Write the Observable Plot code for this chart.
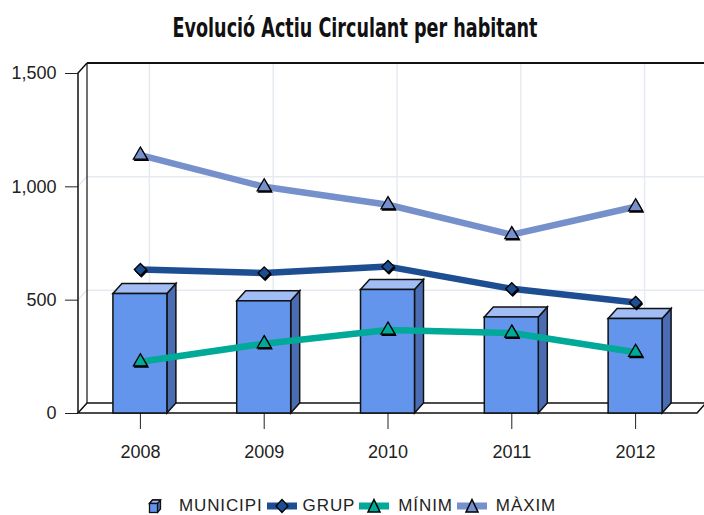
<!DOCTYPE html>
<html>
<head>
<meta charset="utf-8">
<script src="https://cdn.jsdelivr.net/npm/d3@7"></script>
<script src="https://cdn.jsdelivr.net/npm/@observablehq/plot@0.6"></script>
<style>
  html, body { margin: 0; padding: 0; background: #fff; }
  #wrap { width: 704px; height: 515px; position: relative; overflow: hidden; font-family: "Liberation Sans", Arial, sans-serif; }
  #title { display: block; }
  #legend { position: absolute; left: 0; top: 480px; width: 704px; display: flex; justify-content: center; align-items: center; padding-top: 17px; line-height: 18px; font-size: 17px; letter-spacing: 0.9px; color: #222; }
  #legend .item { display: flex; align-items: center; }
  #legend svg { display: block; }
</style>
</head>
<body>
<div id="wrap">
  <svg id="title" width="704" height="50">
    <text x="355" y="37" text-anchor="middle" font-family="'Liberation Sans Narrow','DejaVu Sans Condensed','Liberation Sans',sans-serif" font-weight="bold" font-size="27" textLength="365" lengthAdjust="spacingAndGlyphs" fill="#111">Evolució Actiu Circulant per habitant</text>
  </svg>
  <div id="chart"></div>
  <div id="legend"></div>
</div>
<script>
// ---- data ----
const years = ["2008", "2009", "2010", "2011", "2012"];
const municipi = [527, 495, 545, 424, 417];
const grup = [635, 620, 648, 550, 490];
const minim = [228, 308, 368, 355, 270];
const maxim = [1140, 1000, 921, 789, 912];
const yTicks = [0, 500, 1000, 1500];
const seriesNames = ["MUNICIPI", "GRUP", "MÍNIM", "MÀXIM"];

// ---- styles ----
const C = {
  barFront: "#6495ed", barTop: "#a1bdf4", barSide: "#4a6cb3",
  grup: "#1c4e91", minim: "#00a998", maxim: "#7590ca",
  grid: "#e6ebf2", ink: "#111"
};
const DX = 9, DY = -10; // 3D depth offset in px

const rows = years.map((year, i) => ({year, municipi: municipi[i], grup: grup[i], minim: minim[i], maxim: maxim[i]}));

function bw(s) { return typeof s.bandwidth === "function" ? s.bandwidth() : s.bandwidth; }

// 3D frame (side wall, back wall, floor)
function frame3d(index, scales, values, dims) {
  const {width, marginLeft: L, marginRight: R} = dims;
  const y = scales.y;
  const y0 = y(0), yT = y(yTicks[yTicks.length - 1]);
  const right = width - R;
  const g = d3.create("svg:g").attr("fill", "none");
  for (const t of yTicks.slice(1, -1)) {
    g.append("line").attr("x1", L).attr("y1", y(t)).attr("x2", L + DX).attr("y2", y(t) + DY)
      .attr("stroke", C.grid).attr("stroke-width", 1.5);
  }
  g.append("path")
    .attr("d", `M${L},${y0}L${right},${y0}L${right + DX},${y0 + DY}L${L + DX},${y0 + DY}Z`)
    .attr("fill", "#fff").attr("stroke", C.ink).attr("stroke-width", 1.5);
  g.append("line").attr("x1", right + DX).attr("y1", y0 + DY).attr("x2", width + 20).attr("y2", y0 + DY)
    .attr("stroke", C.ink).attr("stroke-width", 1.5);
  g.append("line").attr("x1", L + DX).attr("y1", yT + DY).attr("x2", L + DX).attr("y2", y0 + DY)
    .attr("stroke", C.ink).attr("stroke-width", 1.2);
  g.append("line").attr("x1", L + DX).attr("y1", yT + DY).attr("x2", width + 20).attr("y2", yT + DY)
    .attr("stroke", C.ink).attr("stroke-width", 2.2);
  g.append("path").attr("d", `M${L},${y0}L${L},${yT}L${L + DX},${yT + DY}`)
    .attr("stroke", C.ink).attr("stroke-width", 1.5);
  return g.node();
}

// 3D bar top & side faces
function barFaces(index, scales, values, dims) {
  const x = scales.x, y = scales.y, w = bw(x);
  const g = d3.create("svg:g").attr("stroke", C.ink).attr("stroke-width", 1.5).attr("stroke-linejoin", "miter");
  rows.forEach(r => {
    const x0 = x(r.year), yt = y(r.municipi), yb = y(0);
    g.append("path").attr("fill", C.barSide)
      .attr("d", `M${x0 + w},${yt}L${x0 + w + DX},${yt + DY}L${x0 + w + DX},${yb + DY}L${x0 + w},${yb}Z`);
    g.append("path").attr("fill", C.barTop)
      .attr("d", `M${x0},${yt}L${x0 + DX},${yt + DY}L${x0 + w + DX},${yt + DY}L${x0 + w},${yt}Z`);
  });
  return g.node();
}

const lineSeries = [
  {key: "minim", color: C.minim, symbol: "triangle", r: 5.2},
  {key: "grup", color: C.grup, symbol: "diamond2", r: 5.5},
  {key: "maxim", color: C.maxim, symbol: "triangle", r: 5.2}
];

const marks = [
  Plot.ruleY(yTicks.slice(1, -1), {stroke: C.grid, strokeWidth: 1.5, dx: DX, dy: DY}),
  Plot.ruleX(years, {y1: 0, y2: 1500, stroke: C.grid, strokeWidth: 1.5, dx: DX, dy: DY}),
  frame3d,
  barFaces,
  Plot.barY(rows, {x: "year", y: "municipi", fill: C.barFront, stroke: C.ink, strokeWidth: 1.5})
];
for (const s of lineSeries) {
  marks.push(Plot.line(rows, {x: "year", y: s.key, stroke: s.color, strokeWidth: 6.5, strokeLinejoin: "miter"}));
}
for (const s of lineSeries) {
  marks.push(Plot.dot(rows, {x: "year", y: s.key, symbol: s.symbol, r: s.r + 0.5, fill: "#000", dx: 1, dy: 1.5}));
  marks.push(Plot.dot(rows, {x: "year", y: s.key, symbol: s.symbol, r: s.r, fill: s.color, stroke: "#000", strokeWidth: 1.3}));
}

const chart = Plot.plot({
  width: 704,
  height: 430,
  marginLeft: 78,
  marginRight: 7,
  marginTop: 23,
  marginBottom: 67,
  style: {fontSize: "18px", fontFamily: "'Liberation Sans', Arial, sans-serif", color: "#222", background: "transparent", overflow: "visible"},
  x: {type: "band", domain: years, paddingInner: 0.564, paddingOuter: 0.282, round: false, tickSize: 16, tickPadding: 16, label: null},
  y: {domain: [0, 1500], ticks: yTicks, tickFormat: d3.format(","), tickSize: 13, tickPadding: 9, label: null},
  marks
});
chart.style.display = "block";
document.getElementById("chart").appendChild(chart);

// ---- legend ----
const legend = document.getElementById("legend");
const icons = {
  "MUNICIPI": `<svg width="14" height="16" viewBox="0 0 14 16"><path d="M1.5,5.5L4.5,2L12.5,2L12.5,11L9.5,14.5Z" fill="${C.barSide}" stroke="#111" stroke-width="1.3"/><path d="M1.5,5.5L4.5,2L12.5,2L9.5,5.5Z" fill="${C.barTop}" stroke="#111" stroke-width="1.3"/><rect x="1.5" y="5.5" width="8" height="9" fill="${C.barFront}" stroke="#111" stroke-width="1.3"/></svg>`,
  "GRUP": `<svg width="30" height="16"><path d="M0,8L30,8" stroke="${C.grup}" stroke-width="7"/><path d="M15,1.5L21,8L15,14.5L9,8Z" fill="${C.grup}" stroke="#000" stroke-width="1.3"/></svg>`,
  "MÍNIM": `<svg width="30" height="16"><path d="M0,8L30,8" stroke="${C.minim}" stroke-width="7"/><path d="M15,1.5L21,14L9,14Z" fill="${C.minim}" stroke="#000" stroke-width="1.5"/></svg>`,
  "MÀXIM": `<svg width="30" height="16"><path d="M0,8L30,8" stroke="${C.maxim}" stroke-width="7"/><path d="M15,1.5L21,14L9,14Z" fill="${C.maxim}" stroke="#000" stroke-width="1.5"/></svg>`
};
const gaps = {"MUNICIPI": 17, "GRUP": 6, "MÍNIM": 9, "MÀXIM": 9};
seriesNames.forEach((name, i) => {
  const item = document.createElement("div");
  item.className = "item";
  item.style.marginLeft = i === 0 ? "0" : "4px";
  item.innerHTML = icons[name] + `<span style="margin-left:${gaps[name]}px">${name}</span>`;
  legend.appendChild(item);
});
</script>
</body>
</html>
